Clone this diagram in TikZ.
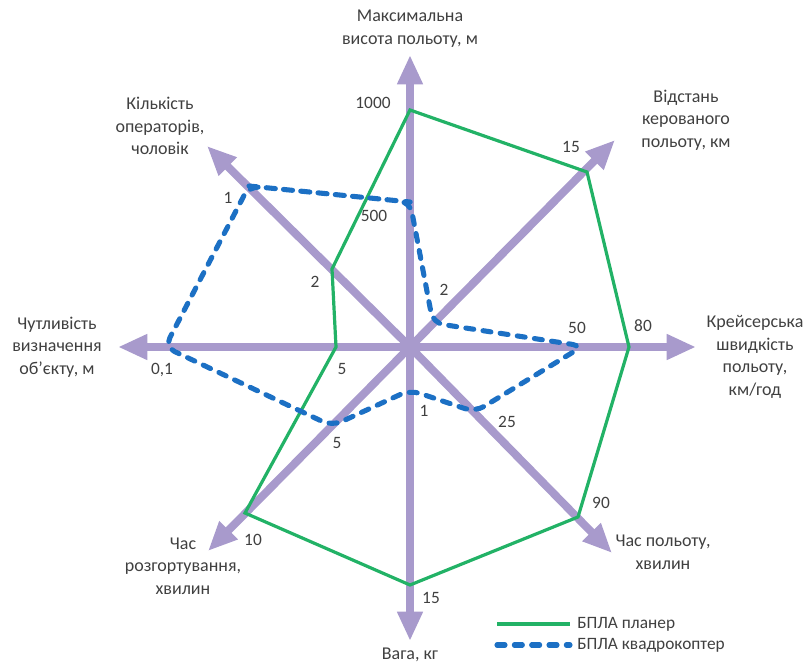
\documentclass[tikz,border=0pt]{standalone}
\usepackage{fontspec}
\setmainfont{Carlito}
\usetikzlibrary{arrows.meta}
\definecolor{axiscol}{RGB}{168,154,204}
\definecolor{gcol}{RGB}{34,178,102}
\definecolor{bcol}{RGB}{28,112,196}
\definecolor{tcol}{RGB}{64,64,64}
\tikzset{
  axisline/.style={draw=axiscol,line width=6pt,-{Triangle[length=22pt,width=18pt]}},
  planer/.style={draw=gcol,line width=2.4pt,line join=miter},
  quadro/.style={draw=bcol,line width=3.8pt,line cap=round,dash pattern=on 6pt off 7pt,rounded corners=8pt},
  lbl/.style={text=tcol,font=\fontsize{13.5}{17}\selectfont,align=center,inner sep=0pt},
  val/.style={text=tcol,font=\fontsize{13}{15}\selectfont,inner sep=0pt}
}
\begin{document}
\begin{tikzpicture}[x=0.75pt,y=-0.75pt]
\useasboundingbox (0,0) rectangle (810,664);
\coordinate (O) at (410,347);
% axis tips
\coordinate (tN) at (410,55);
\coordinate (tNE) at (615,140);
\coordinate (tE) at (696,347);
\coordinate (tSE) at (612,553);
\coordinate (tS) at (410,641);
\coordinate (tSW) at (208,551);
\coordinate (tW) at (118,347);
\coordinate (tNW) at (207,146);
\foreach \t in {tN,tNE,tE,tSE,tS,tSW,tW,tNW}{\draw[axisline] (O) -- (\t);}
% planer points
\coordinate (g1) at (410,110);
\coordinate (g2) at (587,172);
\coordinate (g3) at (629,347);
\coordinate (g4) at (578,517);
\coordinate (g5) at (410,585);
\coordinate (g6) at (245,513);
\coordinate (g7) at (336,347);
\coordinate (g8) at (332,269);
\draw[planer] (g1) -- (g2) -- (g3) -- (g4) -- (g5) -- (g6) -- (g7) -- (g8) -- cycle;
% quadro points
\coordinate (b1) at (410,202);
\coordinate (b2) at (433,323);
\coordinate (b3) at (583,346);
\coordinate (b4) at (475,412);
\coordinate (b5) at (410,390);
\coordinate (b6) at (332,426);
\coordinate (b7) at (165,347);
\coordinate (b8) at (249,186);
\draw[quadro] (b8) -- (b1) -- (b2) -- (b3) -- (b4) -- (b5) -- (b6) -- (b7) -- (b8) -- ([xshift=0.1pt]b1);
% value labels
\node[val] (v1) at (373,103) {1000};
\node[val] (v2) at (571,147) {15};
\node[val] (v3) at (643,326) {80};
\node[val] (v4) at (601,503) {90};
\node[val] (v5) at (431,598) {15};
\node[val] (v6) at (253,540) {10};
\node[val] (v7) at (342,369) {5};
\node[val] (v8) at (315,282) {2};
\node[val] (w1) at (374,216) {500};
\node[val] (w2) at (444,290) {2};
\node[val] (w3) at (577,328) {50};
\node[val] (w4) at (507,422) {25};
\node[val] (w5) at (424,411) {1};
\node[val] (w6) at (337,443) {5};
\node[val] (w7) at (162,370) {0,1};
\node[val] (w8) at (228,198) {1};
% axis titles
\node[lbl] (aN) at (410,29) {Максимальна\\висота польоту, м};
\node[lbl] (aNE) at (686,120) {Відстань\\керованого\\польоту, км};
\node[lbl] (aE) at (755,357) {Крейсерська\\швидкість\\польоту,\\км/год};
\node[lbl] (aSE) at (663,552) {Час польоту,\\хвилин};
\node[lbl] (aS) at (410,655) {Вага, кг};
\node[lbl] (aSW) at (183,566) {Час\\розгортування,\\хвилин};
\node[lbl] (aW) at (57,347) {Чутливість\\визначення\\об’єкту, м};
\node[lbl] (aNW) at (160,126) {Кількість\\операторів,\\чоловік};
% legend
\coordinate (la) at (497,624);
\coordinate (lb) at (570,624);
\coordinate (lc) at (497,645);
\coordinate (ld) at (570,645);
\draw[planer] (la) -- (lb);
\draw[quadro] (lc) -- (ld);
\node[val,anchor=west] (lt1) at (577,624) {БПЛА планер};
\node[val,anchor=west] (lt2) at (577,645) {БПЛА квадрокоптер};
\end{tikzpicture}
\end{document}
